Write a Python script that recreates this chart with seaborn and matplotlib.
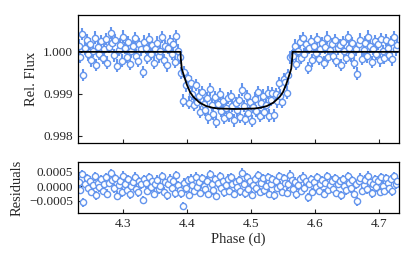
import numpy as np
import pandas as pd
import seaborn as sns
import matplotlib.pyplot as plt
from matplotlib.ticker import FuncFormatter

# Transit model curve (phase in days, relative flux)
model_phase = [4.23, 4.39, 4.3905, 4.392, 4.395, 4.40, 4.405, 4.41, 4.42, 4.43, 4.44,
               4.45, 4.4775, 4.505, 4.515, 4.525, 4.535, 4.545, 4.55, 4.555, 4.56,
               4.563, 4.5645, 4.565, 4.73]
model_flux = [1.0, 1.0, 0.99985, 0.99960, 0.99945, 0.99922, 0.99904, 0.99893, 0.99879,
              0.99871, 0.99867, 0.99865, 0.99864, 0.99865, 0.99867, 0.99871, 0.99879,
              0.99893, 0.99904, 0.99922, 0.99945, 0.99960, 0.99985, 1.0, 1.0]

# Observations: evenly sampled phases, flux and residuals in ppm
n_obs = 200
phase_start, phase_step = 4.231, 0.0025
flux_ppm = [
    150, -120, 420, -550, 80, 280, -60, 190, -200, 30, 340, -310, 110, -40, 250, -150, 60, 310, -260, 120,
    450, 200, -80, 280, -330, 50, 170, -210, 360, 90, -120, 230, -280, 10, 130, 330, -90, -210, 180, 60,
    -480, 240, 100, -150, 300, -40, 170, -260, 60, 220, -110, 20, 350, -190, 140, -320, 90, 260, -50, 180,
    -240, 370, 30, -130, -500, -1160, -480, -800, -620, -1210, -730, -995, -1255, -790, -1195, -1040, -1435, -955, -1235, -1385,
    -1100, -1560, -890, -1260, -1468, -1085, -1670, -1245, -1000, -1412, -1175, -1567, -1328, -1099, -1510, -1050, -1280, -1630, -1220, -1390,
    -1150, -1540, -899, -1288, -1597, -1055, -1462, -1190, -1648, -1307, -1116, -1412, -956, -1530, -1212, -1042, -1442, -1272, -968, -1520,
    -1150, -980, -1515, -1005, -1180, -745, -1045, -1190, -645, -715, -970, -560, -130, -100, -90, 150, -280, 30, 240, -150,
    320, -60, 180, -380, 90, 250, -200, 130, -30, 300, -170, 70, 210, -260, 110, 340, -120, 40, 190, -90,
    270, -220, 80, 160, -310, 230, 20, -140, 350, 100, -80, 200, -260, 60, -520, 180, 290, -160, 40, 220,
    -110, 360, 130, -240, 70, 250, -40, 190, -200, 310, 20, -150, 280, 100, -70, 230, -180, 350, 60, 170,
]
resid_ppm = [
    150, -120, 420, -550, 80, 280, -60, 190, -200, 30, 340, -310, 110, -40, 250, -150, 60, 310, -260, 120,
    450, 200, -80, 280, -330, 50, 170, -210, 360, 90, -120, 230, -280, 10, 130, 330, -90, -210, 180, 60,
    -480, 240, 100, -150, 300, -40, 170, -260, 60, 220, -110, 20, 350, -190, 140, -320, 90, 260, -50, 180,
    -240, 370, 30, -130, -250, -680, 120, -80, 200, -300, 260, 50, -170, 330, -40, 150, -220, 280, 20, -110,
    190, -260, 420, 60, -140, 250, -330, 100, 350, -60, 180, -210, 30, 260, -150, 310, 80, -270, 140, -30,
    210, -180, 460, 70, -240, 300, -110, 160, -300, 40, 230, -70, 380, -200, 110, 270, -140, 20, 310, -260,
    90, 240, -320, 160, -50, 350, 10, -190, 280, 120, -230, 60, 390, 200, -90, 150, -280, 30, 240, -150,
    320, -60, 180, -380, 90, 250, -200, 130, -30, 300, -170, 70, 210, -260, 110, 340, -120, 40, 190, -90,
    270, -220, 80, 160, -310, 230, 20, -140, 350, 100, -80, 200, -260, 60, -520, 180, 290, -160, 40, 220,
    -110, 360, 130, -240, 70, 250, -40, 190, -200, 310, 20, -150, 280, 100, -70, 230, -180, 350, 60, 170,
]
err_ppm = 150

flux_ticks = [0.998, 0.999, 1.000]
resid_ticks = [-0.0005, 0.0, 0.0005]
phase_ticks = [4.3, 4.4, 4.5, 4.6, 4.7]

df = pd.DataFrame({
    "phase": phase_start + phase_step * np.arange(n_obs),
    "flux": 1 + np.array(flux_ppm) * 1e-6,
    "resid": np.array(resid_ppm) * 1e-6,
})
err = err_ppm * 1e-6

sns.set_style("ticks")
plt.rcParams["font.family"] = ["Liberation Serif", "DejaVu Serif"]

col = "#6495ED"
fig = plt.figure(figsize=(4.15, 2.6), dpi=100)
ax1 = fig.add_axes([0.188, 0.45, 0.773, 0.492])
ax2 = fig.add_axes([0.188, 0.181, 0.773, 0.196])

for ax, ycol in [(ax1, "flux"), (ax2, "resid")]:
    ax.errorbar(df["phase"], df[ycol], yerr=err, fmt="none", ecolor=col,
                elinewidth=1.5, zorder=1)
    sns.scatterplot(data=df, x="phase", y=ycol, ax=ax, s=20, facecolor="white",
                    edgecolor=col, linewidth=1.0, zorder=2, legend=False)
    ax.set_xlim(4.23, 4.731)
    ax.tick_params(direction="in", length=3, labelsize=9.5, width=0.8)
    for s in ax.spines.values():
        s.set_linewidth(0.9)
        s.set_color("black")

sns.lineplot(x=model_phase, y=model_flux, ax=ax1, color="black", lw=1.3, zorder=3)

ax1.set_ylim(0.99783, 1.000875)
ax1.set_yticks(flux_ticks)
ax1.yaxis.set_major_formatter(FuncFormatter(lambda v, p: f"{v:.3f}"))
ax1.set_xticks(phase_ticks)
ax1.set_xticklabels([])
ax1.set_xlabel("")
ax1.set_ylabel("Rel. Flux", fontsize=10.5)

ax2.set_ylim(-0.00092, 0.00083)
ax2.set_yticks(resid_ticks)
ax2.yaxis.set_major_formatter(FuncFormatter(lambda v, p: f"{v:.4f}".replace("-", "\u2212") if abs(v) > 1e-12 else "0.0000"))
ax2.set_xticks(phase_ticks)
ax2.set_xlabel("Phase (d)", fontsize=10.5, labelpad=2)
ax2.set_ylabel("Residuals", fontsize=10.5)

fig.align_ylabels([ax1, ax2])
fig.savefig("out.png", dpi=100)
